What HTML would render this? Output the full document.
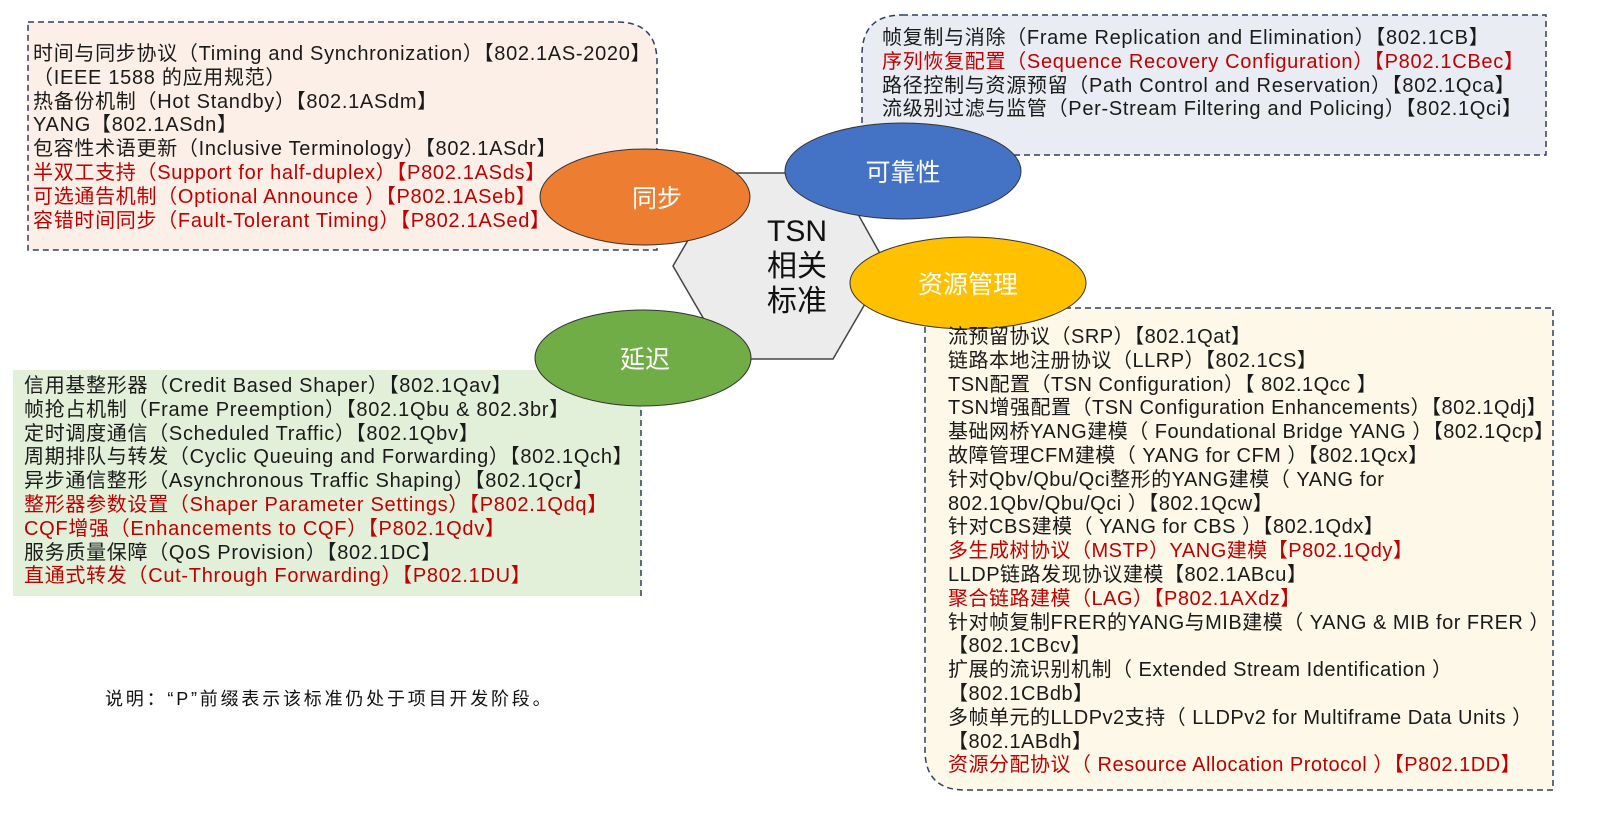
<!DOCTYPE html>
<html><head><meta charset="utf-8"><style>
body{margin:0;width:1600px;height:818px;background:#fff;position:relative;overflow:hidden;font-family:"Liberation Sans","Noto Sans CJK SC",sans-serif;}
svg{position:absolute;left:0;top:0}
.t{position:absolute;white-space:nowrap;font-size:20px;line-height:23.8px;color:#1a1a1a;letter-spacing:0.7px}
.t div{height:23.8px}
.r{color:#c00000}
.lbl{position:absolute;color:#fff;font-size:25px;white-space:nowrap;transform:translate(-50%,-50%)}
</style></head><body>
<svg width="1600" height="818" viewBox="0 0 1600 818">
  <path d="M28,22 H617 Q657,22 657,62 V250 H28 Z" fill="#fcefe7" stroke="#2f3f5f" stroke-width="1.5" stroke-dasharray="6,4"/>
  <path d="M902,15 H1546 V155 H862 V55 Q862,15 902,15 Z" fill="#e9ecf2" stroke="#2f3f5f" stroke-width="1.5" stroke-dasharray="6,4"/>
  <path d="M13,370 H641 V596 H13 Z" fill="#e2efd9"/>
  <path d="M641,370 V596" stroke="#2f3f5f" stroke-width="1.5" stroke-dasharray="6,4"/>
  <path d="M925,308 H1553 V790 H965 Q925,790 925,750 Z" fill="#fef8e8" stroke="#2f3f5f" stroke-width="1.5" stroke-dasharray="6,4"/>
  <polygon points="673,266 727,173 835,173 887,266 833,359 727,359" fill="#ececec" stroke="#444" stroke-width="1.5"/>
  <ellipse cx="645" cy="197" rx="105" ry="48" fill="#ed7d31" stroke="#333" stroke-width="1"/>
  <ellipse cx="903" cy="171" rx="118" ry="48" fill="#4472c4" stroke="#333" stroke-width="1"/>
  <ellipse cx="968" cy="283" rx="118" ry="46" fill="#ffc000" stroke="#333" stroke-width="1"/>
  <ellipse cx="643" cy="358" rx="108" ry="48" fill="#70ad47" stroke="#333" stroke-width="1"/>
</svg>
<div style="position:absolute;left:767px;top:214px;font-size:30px;line-height:35px;color:#111;">TSN<br>相关<br>标准</div>
<div class="lbl" style="left:657px;top:197px">同步</div>
<div class="lbl" style="left:903px;top:171px">可靠性</div>
<div class="lbl" style="left:968px;top:283px">资源管理</div>
<div class="lbl" style="left:645px;top:358px">延迟</div>

<div class="t" style="left:33px;top:43px">
<div>时间与同步协议（Timing and Synchronization）【802.1AS-2020】</div>
<div>（IEEE 1588 的应用规范）</div>
<div>热备份机制（Hot Standby）【802.1ASdm】</div>
<div>YANG【802.1ASdn】</div>
<div>包容性术语更新（Inclusive Terminology）【802.1ASdr】</div>
<div class="r">半双工支持（Support for half-duplex）【P802.1ASds】</div>
<div class="r">可选通告机制（Optional Announce ）【P802.1ASeb】</div>
<div class="r">容错时间同步（Fault-Tolerant Timing）【P802.1ASed】</div>
</div>

<div class="t" style="left:882px;top:27px">
<div>帧复制与消除（Frame Replication and Elimination）【802.1CB】</div>
<div class="r">序列恢复配置（Sequence Recovery Configuration）【P802.1CBec】</div>
<div>路径控制与资源预留（Path Control and Reservation）【802.1Qca】</div>
<div>流级别过滤与监管（Per-Stream Filtering and Policing）【802.1Qci】</div>
</div>

<div class="t" style="left:24px;top:375px">
<div>信用基整形器（Credit Based Shaper）【802.1Qav】</div>
<div>帧抢占机制（Frame Preemption）【802.1Qbu &amp; 802.3br】</div>
<div>定时调度通信（Scheduled Traffic）【802.1Qbv】</div>
<div>周期排队与转发（Cyclic Queuing and Forwarding）【802.1Qch】</div>
<div>异步通信整形（Asynchronous Traffic Shaping）【802.1Qcr】</div>
<div class="r">整形器参数设置（Shaper Parameter Settings）【P802.1Qdq】</div>
<div class="r">CQF增强（Enhancements to CQF）【P802.1Qdv】</div>
<div>服务质量保障（QoS Provision）【802.1DC】</div>
<div class="r">直通式转发（Cut-Through Forwarding）【P802.1DU】</div>
</div>

<div class="t" style="left:948px;top:326px;letter-spacing:0.5px">
<div>流预留协议（SRP）【802.1Qat】</div>
<div>链路本地注册协议（LLRP）【802.1CS】</div>
<div>TSN配置（TSN Configuration）【 802.1Qcc 】</div>
<div>TSN增强配置（TSN Configuration Enhancements）【802.1Qdj】</div>
<div>基础网桥YANG建模（ Foundational Bridge YANG ）【802.1Qcp】</div>
<div>故障管理CFM建模（ YANG for CFM ）【802.1Qcx】</div>
<div>针对Qbv/Qbu/Qci整形的YANG建模（ YANG for</div>
<div>802.1Qbv/Qbu/Qci ）【802.1Qcw】</div>
<div>针对CBS建模（ YANG for CBS ）【802.1Qdx】</div>
<div class="r">多生成树协议（MSTP）YANG建模【P802.1Qdy】</div>
<div>LLDP链路发现协议建模【802.1ABcu】</div>
<div class="r">聚合链路建模（LAG）【P802.1AXdz】</div>
<div>针对帧复制FRER的YANG与MIB建模（ YANG &amp; MIB for FRER ）</div>
<div>【802.1CBcv】</div>
<div>扩展的流识别机制（ Extended Stream Identification ）</div>
<div>【802.1CBdb】</div>
<div>多帧单元的LLDPv2支持（ LLDPv2 for Multiframe Data Units ）</div>
<div>【802.1ABdh】</div>
<div class="r">资源分配协议（ Resource Allocation Protocol ）【P802.1DD】</div>
</div>

<div style="position:absolute;left:105px;top:685px;font-size:18px;letter-spacing:2.8px;white-space:nowrap;color:#111">说明：“P”前缀表示该标准仍处于项目开发阶段。</div>
</body></html>
